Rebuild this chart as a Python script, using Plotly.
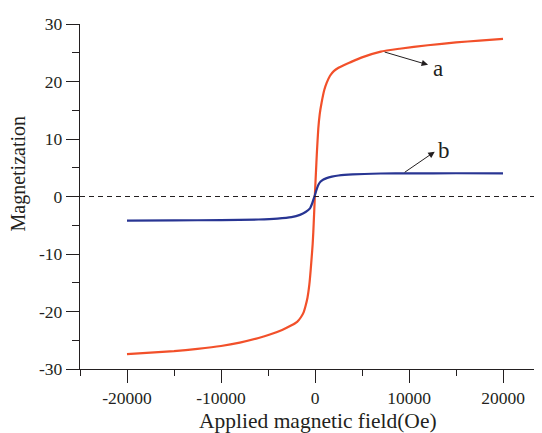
import plotly.graph_objects as go

# Curve a (orange) - applied field (Oe) and magnetization
field_a = [-20000, -17500, -15000, -12500, -10000, -8000, -6000, -4800, -3500, -2500,
           -1900, -1500, -1200, -1000, -800, -600, -450, -350, -250, -180, -100, -50,
           0, 100, 200, 350, 500, 700, 1000, 1250, 1600, 2000, 2500, 3000, 3700, 5000,
           7000, 9000, 12000, 15000, 17500, 20000]
mag_a = [-27.4, -27.15, -26.9, -26.5, -26.0, -25.4, -24.6, -24.0, -23.2, -22.4,
         -21.8, -21.0, -20.1, -19.0, -17.6, -15.3, -12.6, -10.5, -8.3, -6.2, -3.2, -1.3,
         0.7, 4.2, 7.6, 11.8, 14.3, 16.3, 18.6, 19.8, 21.0, 21.8, 22.4, 22.8, 23.3, 24.2,
         25.2, 25.7, 26.3, 26.8, 27.1, 27.4]

# Curve b (navy)
field_b = [-20000, -15000, -10000, -6000, -4000, -2500, -1600, -1000, -530, -300, -180,
           0, 150, 350, 600, 900, 1240, 1800, 2500, 4000, 7000, 10000, 15000, 20000]
mag_b = [-4.2, -4.15, -4.1, -4.0, -3.85, -3.6, -3.2, -2.7, -2.05, -1.2, -0.6,
         0.3, 1.1, 2.0, 2.6, 2.95, 3.2, 3.45, 3.65, 3.85, 4.0, 4.03, 4.04, 4.03]

x_ticks = [-20000, -10000, 0, 10000, 20000]
x_labels = ["-20000", "-10000", "0", "10000", "20000"]
y_ticks = [-30, -20, -10, 0, 10, 20, 30]
y_labels = ["-30", "-20", "-10", "0", "10", "20", "30"]

FONT = "Liberation Serif, Times New Roman, serif"
INK = "#231f20"

fig = go.Figure()
fig.add_trace(go.Scatter(x=field_a, y=mag_a, mode="lines",
                         line=dict(color="#f2502a", width=2.2, shape="spline", smoothing=0.5),
                         showlegend=False))
fig.add_trace(go.Scatter(x=field_b, y=mag_b, mode="lines",
                         line=dict(color="#283593", width=2.2, shape="spline", smoothing=0.6),
                         showlegend=False))

fig.add_shape(type="line", xref="paper", yref="y", x0=0, x1=1, y0=0, y1=0,
              line=dict(color=INK, width=1, dash="5px,4px"))

# arrows (head near the label)
fig.add_annotation(x=12030, y=22.9, ax=7250, ay=25.2, xref="x", yref="y",
                   axref="x", ayref="y", text="", showarrow=True,
                   arrowhead=2, arrowsize=1.3, arrowwidth=1.0, arrowcolor=INK)
fig.add_annotation(x=12740, y=7.8, ax=9380, ay=4.03, xref="x", yref="y",
                   axref="x", ayref="y", text="", showarrow=True,
                   arrowhead=2, arrowsize=1.3, arrowwidth=1.0, arrowcolor=INK)
fig.add_annotation(x=12300, y=22.3, xref="x", yref="y", text="a", showarrow=False,
                   xanchor="left", yanchor="middle", font=dict(family=FONT, size=23, color=INK))
fig.add_annotation(x=12820, y=8.0, xref="x", yref="y", text="b", showarrow=False,
                   xanchor="left", yanchor="middle", font=dict(family=FONT, size=23, color=INK))

# page has an 8px body margin: figure pixel = window pixel - 8
OFF = 8
fig.add_annotation(x=318 - OFF, y=421 - OFF, xref="paper", yref="paper",
                   text="Applied magnetic field(Oe)",
                   showarrow=False, xanchor="center", yanchor="middle",
                   font=dict(family=FONT, size=21.5, color=INK))
fig.add_annotation(x=18 - OFF, y=173.5 - OFF, xref="paper", yref="paper", text="Magnetization",
                   showarrow=False, xanchor="center", yanchor="middle", textangle=-90,
                   font=dict(family=FONT, size=20, color=INK))

W, H = 542, 433
L, R, T, B = 80 - OFF, 0, 24 - OFF, H - (369 - OFF)
pw, ph = W - L - R, H - T - B
for ann in fig.layout.annotations[-2:]:
    ann.x = (ann.x - L) / pw
    ann.y = (H - B - ann.y) / ph

fig.update_layout(
    width=W, height=H,
    margin=dict(l=L, r=R, t=T, b=B),
    paper_bgcolor="white", plot_bgcolor="white",
    font=dict(family=FONT, size=17, color=INK),
    xaxis=dict(range=[-25000, 25000], showgrid=False, zeroline=False,
               showline=True, linecolor=INK, linewidth=1.3,
               tickmode="array", tickvals=x_ticks, ticktext=x_labels,
               ticks="outside", ticklen=13, tickwidth=1.2, tickcolor=INK,
               minor=dict(tickmode="linear", tick0=0, dtick=5000, ticks="outside",
                          ticklen=6, tickwidth=1.2, tickcolor=INK, showgrid=False),
               tickfont=dict(family=FONT, size=17.5, color=INK)),
    yaxis=dict(range=[-30, 30], showgrid=False, zeroline=False,
               showline=True, linecolor=INK, linewidth=1.3,
               tickmode="array", tickvals=y_ticks, ticktext=y_labels,
               ticks="outside", ticklen=13, tickwidth=1.2, tickcolor=INK,
               minor=dict(tickmode="linear", tick0=0, dtick=5, ticks="outside",
                          ticklen=7, tickwidth=1.2, tickcolor=INK, showgrid=False),
               tickfont=dict(family=FONT, size=17.5, color=INK)),
)

fig.write_html("out.html")
